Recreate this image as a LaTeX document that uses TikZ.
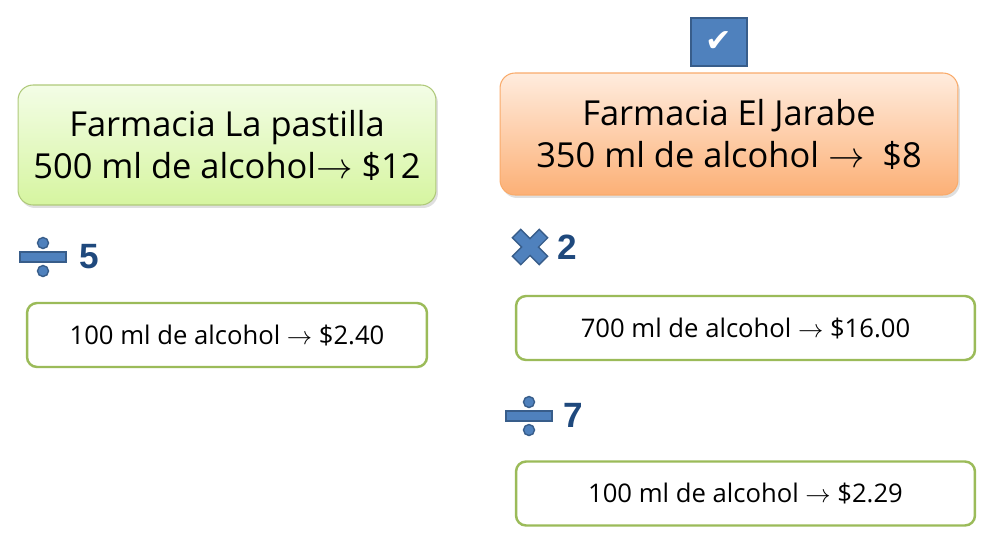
\documentclass[tikz,border=0pt]{standalone}
\usepackage{fontspec}
\setmainfont{Open Sans}
\newfontfamily\numfont{Liberation Sans}
\usetikzlibrary{shadows}
\definecolor{iconblue}{RGB}{79,129,189}
\definecolor{icondark}{RGB}{56,93,138}
\definecolor{numblue}{RGB}{31,73,125}
\definecolor{boxgreen}{RGB}{155,187,89}
\definecolor{boxorange}{RGB}{247,150,70}
\tikzset{
  bigbox/.style={rounded corners=0.3cm, draw, line width=0.6pt, align=center,
    font=\fontsize{19.6}{24}\selectfont, drop shadow={shadow xshift=0.04cm, shadow yshift=-0.06cm, opacity=0.25}},
  stepbox/.style={rounded corners=0.2cm, draw=boxgreen, line width=1.4pt, fill=white,
    minimum height=1.28cm, font=\fontsize{14.6}{17}\selectfont},
  opnum/.style={font=\numfont\bfseries\fontsize{20}{24}\selectfont, text=numblue, anchor=west, inner sep=0pt},
  icon/.style={fill=iconblue, draw=icondark, line width=0.8pt}
}
\begin{document}
\begin{tikzpicture}[x=0.02cm,y=-0.02cm]
\useasboundingbox (0,0) rectangle (992,556);
% top boxes
\node[bigbox, draw=boxgreen!80, top color={rgb,255:red,243;green,253;blue,230}, bottom color={rgb,255:red,214;green,245;blue,160},
  minimum width=8.36cm, minimum height=2.4cm] (pastilla) at (227,145)
  {Farmacia La pastilla\\500 ml de alcohol$\rightarrow$ \$12};
\node[bigbox, draw=boxorange!80, top color={rgb,255:red,255;green,236;blue,222}, bottom color={rgb,255:red,252;green,176;blue,118},
  minimum width=9.16cm, minimum height=2.44cm] (jarabe) at (729,134)
  {Farmacia El Jarabe\\350 ml de alcohol $\rightarrow$~ \$8};
% check mark
\node[fill=iconblue, draw=icondark, line width=1.6pt, minimum width=1.12cm, minimum height=0.96cm,
  inner sep=0pt, text=white, font=\fontsize{18}{18}\selectfont] (check) at (719,42) {\fontspec{DejaVu Sans}✔};
% left column
\draw[icon] (20,252) rectangle (66,262); %bar
\draw[icon] (43,243) circle (5.5);
\draw[icon] (43,271) circle (5.5);
\node[opnum] (cinco) at (79,257) {5};
\node[stepbox, minimum width=8cm] (left1) at (227,335) {100 ml de alcohol $\rightarrow$ \$2.40};
% right column
\begin{scope}[shift={(530,247)}, rotate=45]
  \draw[icon] (-6,-19) -- (6,-19) -- (6,-6) -- (19,-6) -- (19,6) -- (6,6) -- (6,19)
    -- (-6,19) -- (-6,6) -- (-19,6) -- (-19,-6) -- (-6,-6) -- cycle;
\end{scope}
\node[opnum] (dos) at (557,247) {2};
\node[stepbox, minimum width=9.18cm] (right1) at (745.5,328) {700 ml de alcohol $\rightarrow$ \$16.00};
\draw[icon] (506,411) rectangle (552,421); %bar
\draw[icon] (529,402) circle (5.5);
\draw[icon] (529,430) circle (5.5);
\node[opnum] (siete) at (563,415) {7};
\node[stepbox, minimum width=9.18cm] (right2) at (745.5,493.5) {100 ml de alcohol $\rightarrow$ \$2.29};
\end{tikzpicture}
\end{document}
